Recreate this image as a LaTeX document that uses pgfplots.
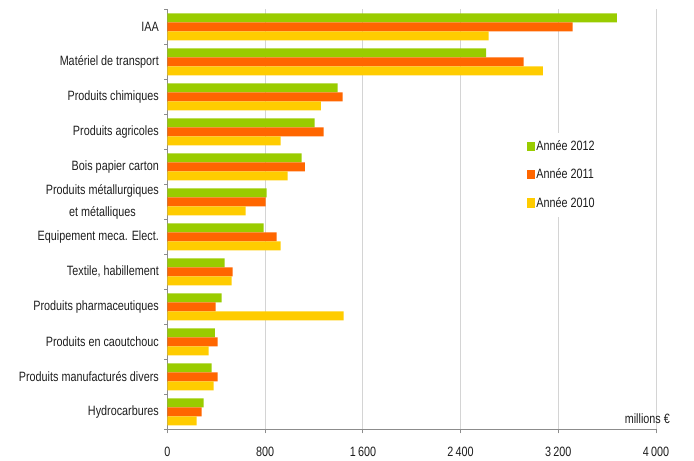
\documentclass[border=0pt]{standalone}
\usepackage{fontspec}
\setmainfont{Liberation Sans}[FakeStretch=0.8]
\usepackage{pgfplots}
\pgfplotsset{compat=1.18}
\definecolor{g12}{HTML}{99CC00}
\definecolor{o11}{HTML}{FF6600}
\definecolor{y10}{HTML}{FFCC00}
\definecolor{gridgray}{HTML}{D4D4D4}
\definecolor{axisgray}{HTML}{8C8C8C}
\definecolor{txt}{HTML}{1E1E1E}
\newcommand\lblfont{\fontsize{13.5bp}{16bp}\selectfont}
\begin{document}
\begin{tikzpicture}
\useasboundingbox (-167.5bp,-31.7bp) rectangle (526.5bp,429.3bp);
\begin{axis}[
  scale only axis, width=488.5bp, height=420bp,
  xbar, bar width=9bp,
  xmin=0, xmax=4000, ymin=-0.5, ymax=11.5,
  axis x line*=bottom, axis y line*=left,
  axis line style={draw=axisgray, line width=0.8bp},
  tick align=outside,
  xtick={0,800,1600,2400,3200,4000},
  xticklabels={0,800,1\,600,2\,400,3\,200,4\,000},
  xmajorgrids, grid style={draw=gridgray, line width=0.8bp},
  x tick style={draw=axisgray, line width=0.8bp},
  major tick length=4bp, minor tick length=3bp,
  ytick={0,...,11},
  minor ytick={-0.5,0.5,...,11.5},
  major y tick style={draw=none},
  minor y tick style={draw=axisgray, line width=0.8bp},
  yticklabels={Hydrocarbures, Produits manufacturés divers, Produits en caoutchouc, Produits pharmaceutiques, {Textile, habillement}, Equipement meca. Elect., {Produits métallurgiques\\[6bp]et métalliques}, Bois papier carton, Produits agricoles, Produits chimiques, Matériel de transport, IAA},
  yticklabel style={font=\lblfont, text=txt, align=center, inner sep=0pt, xshift=-4.5bp},
  xticklabel style={font=\lblfont, text=txt, inner sep=0pt, yshift=-13.5bp},
  clip=false,
  legend style={at={(0.73,0.707)}, anchor=north west, draw=none, fill=white,
    font=\lblfont, text=txt, row sep=17bp,
    inner xsep=3bp, inner ysep=8bp,
    nodes={inner xsep=1.5bp, inner ysep=0pt}},
  legend cell align=left,
  legend image code/.code={\fill[#1] (0bp,-4.7bp) rectangle (7.7bp,4.7bp);},
]
\addplot[fill=g12, draw=none, bar shift=9bp] coordinates {
(296,0) (362,1) (387,2) (444,3) (468,4) (788,5) (812,6) (1099,7) (1205,8) (1394,9) (2608,10) (3679,11)};
\addplot[fill=o11, draw=none, bar shift=0bp] coordinates {
(280,0) (411,1) (411,2) (395,3) (534,4) (894,5) (804,6) (1124,7) (1279,8) (1435,9) (2917,10) (3318,11)};
\addplot[fill=y10, draw=none, bar shift=-9bp] coordinates {
(239,0) (378,1) (337,2) (1443,3) (526,4) (927,5) (640,6) (984,7) (927,8) (1255,9) (3073,10) (2630,11)};
\legend{Année 2012, Année 2011, Année 2010}
\node[anchor=base east, inner sep=0pt, text=txt, font=\lblfont] at (axis cs:4115,-0.32) {millions €};
\end{axis}
\end{tikzpicture}
\end{document}
